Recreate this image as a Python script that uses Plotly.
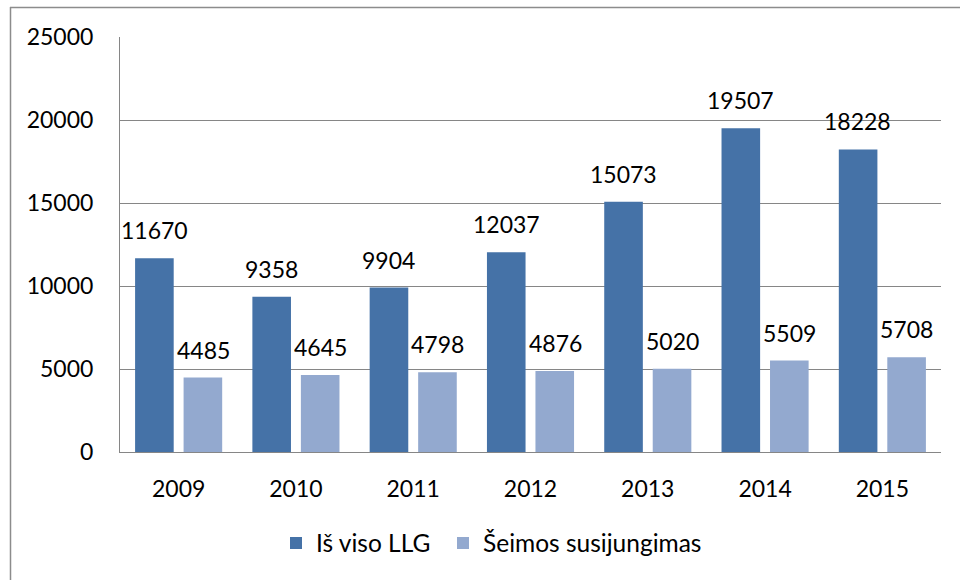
import plotly.graph_objects as go

years = ["2009", "2010", "2011", "2012", "2013", "2014", "2015"]
total_llg = [11670, 9358, 9904, 12037, 15073, 19507, 18228]
family = [4485, 4645, 4798, 4876, 5020, 5509, 5708]
series_names = ["Iš viso LLG", "Šeimos susijungimas"]
colors = ["#4572A7", "#93A9CF"]

FONT = "Lato"
W, H = 960, 580
L, R, T, B = 120, 19, 37, 128
pw, ph = W - L - R, H - T - B

fig = go.Figure()
for k, (name, vals, col) in enumerate(zip(series_names, [total_llg, family], colors)):
    fig.add_trace(go.Bar(x=years, y=vals, name=name, marker=dict(color=col, line=dict(width=0)),
                         legend="legend" if k == 0 else "legend2"))

annotations = []
for vals, shift in [(total_llg, -24.5), (family, 24.5)]:
    for i, v in enumerate(vals):
        annotations.append(dict(x=i, y=v, xref="x", yref="y", text=str(v), showarrow=False,
                                xshift=shift, yshift=28, font=dict(family=FONT, size=23, color="#000")))

def px2x(p):
    return (p - L) / pw

def py2y(p):
    return (H - B - p) / ph

border = dict(color="#8C8C8C", width=1.5)
leg_common = dict(orientation="h", xanchor="left", y=py2y(543), yanchor="middle",
                  font=dict(family=FONT, size=24.5), itemwidth=30, bgcolor="rgba(0,0,0,0)")
fig.update_layout(
    width=W, height=H,
    margin=dict(l=L, r=R, t=T, b=B, autoexpand=False),
    paper_bgcolor="white", plot_bgcolor="white",
    barmode="group", bargap=0.173, bargroupgap=0.204,
    font=dict(family=FONT, size=23, color="#000"),
    annotations=annotations,
    showlegend=True,
    legend=dict(x=px2x(276), **leg_common),
    legend2=dict(x=px2x(443), **leg_common),
    shapes=[
        dict(type="line", xref="paper", yref="paper", x0=px2x(10), x1=px2x(1000),
             y0=py2y(7.5), y1=py2y(7.5), line=border),
        dict(type="line", xref="paper", yref="paper", x0=px2x(10.5), x1=px2x(10.5),
             y0=py2y(7), y1=py2y(620), line=border),
    ],
)
fig.update_yaxes(range=[0, 25000], autorange=False, dtick=5000, showgrid=True, gridcolor="#868686",
                 gridwidth=1, showline=True, linecolor="#868686", linewidth=1, zeroline=False,
                 tickformat="d", ticklabelstandoff=21, ticks="")
fig.update_xaxes(type="category", range=[-0.5, len(years) - 0.5], autorange=False,
                 showline=True, linecolor="#868686", linewidth=1, ticks="", ticklabelstandoff=16)

fig.write_html("out.html", config={"displayModeBar": False},
               post_script="document.body.style.margin='0';")
